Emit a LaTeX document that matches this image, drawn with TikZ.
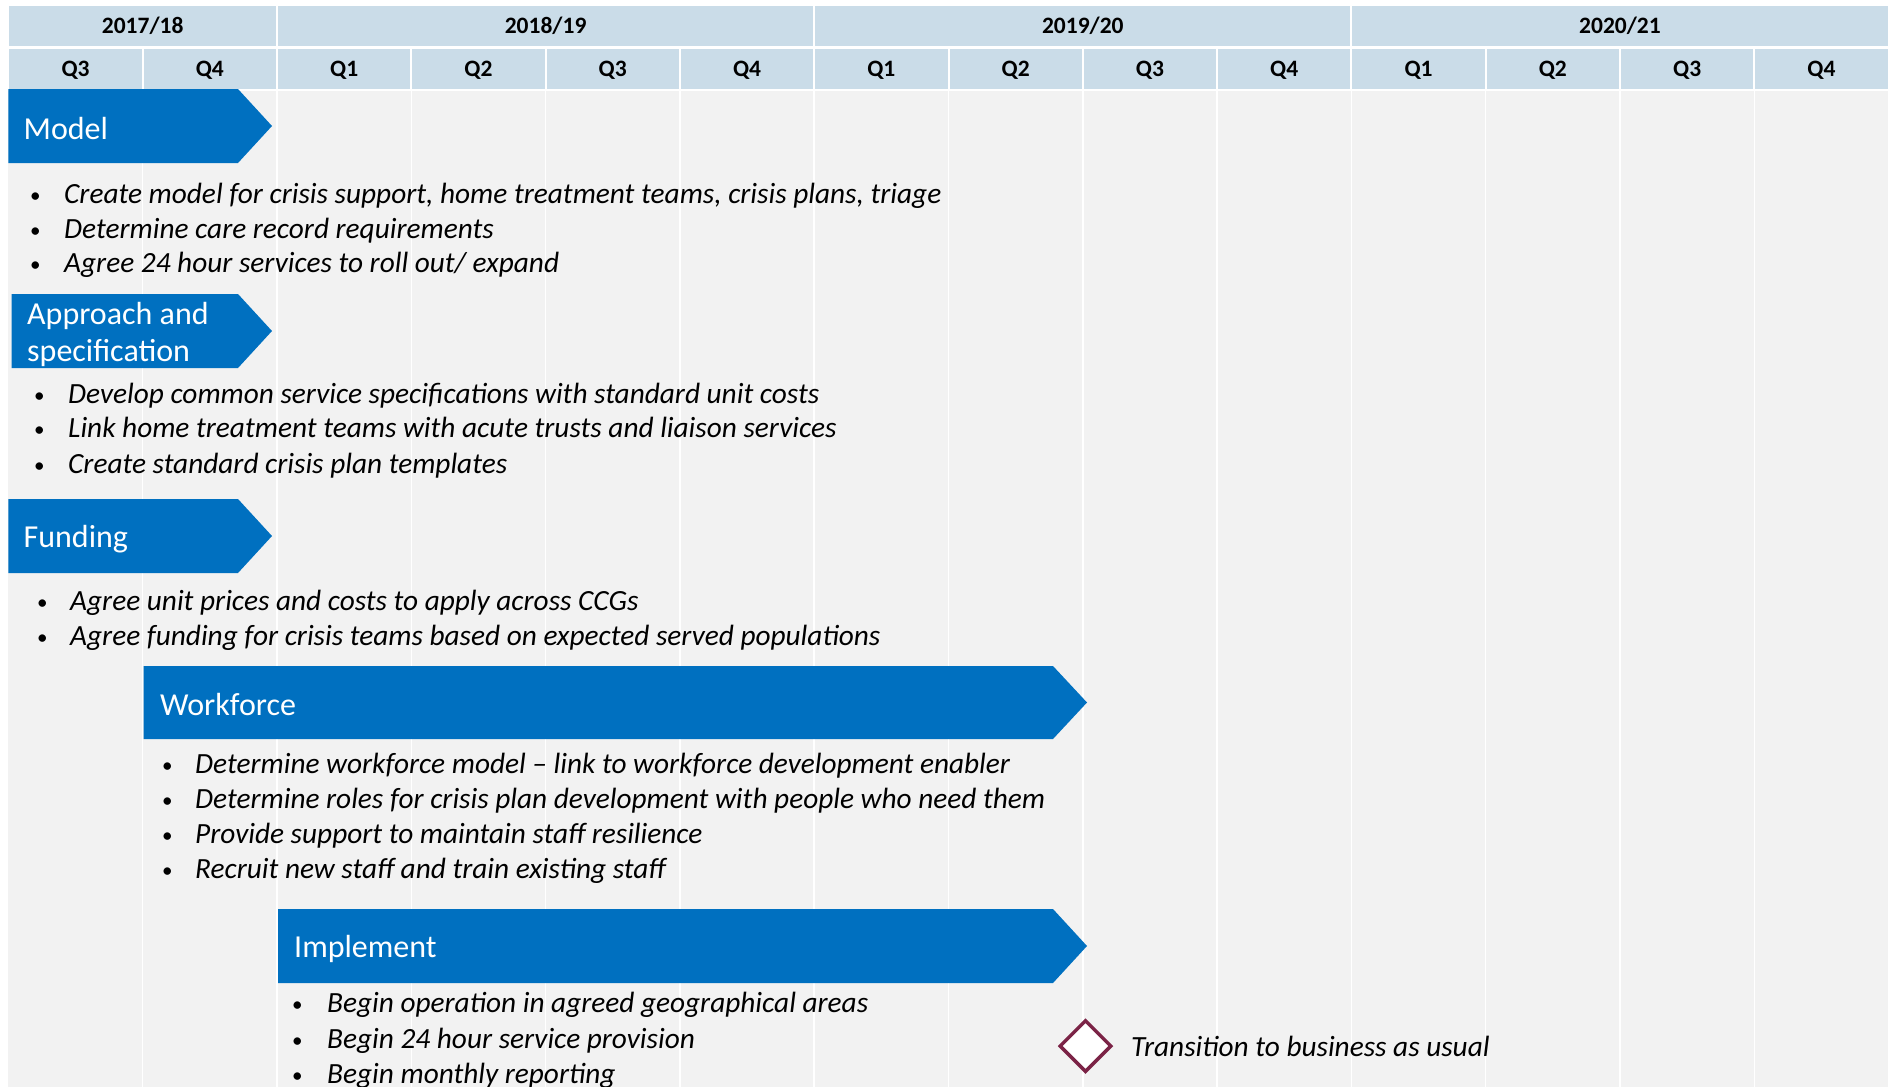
\documentclass[tikz,border=0pt]{standalone}
\usepackage{fontspec}
\setmainfont{Carlito}
\usetikzlibrary{shapes.geometric}
\definecolor{hdrblue}{HTML}{CADCE8}
\definecolor{bodygrey}{HTML}{F2F2F2}
\definecolor{barblue}{HTML}{0070C0}
\definecolor{baured}{HTML}{7B2346}
\newcommand{\itemdot}{\raisebox{1pt}{\scalebox{0.72}{\upshape\textbullet}}}
\begin{document}
\begin{tikzpicture}[x=1pt,y=-1pt,
hdr/.style={fill=hdrblue,draw=white,line width=2pt,inner sep=0pt,text height=15pt,text depth=0pt,font=\bfseries\fontsize{23.5}{26}\selectfont},
bar/.style={fill=barblue},
barlabel/.style={anchor=west,inner sep=0pt,align=left,text=white,font=\fontsize{32}{37.5}\selectfont},
item/.style={anchor=base west,inner sep=0pt,font=\itshape\fontsize{29.3}{33}\selectfont}
]
\useasboundingbox (0,0) rectangle (1888,1087);
\fill[bodygrey] (8.4,90) rectangle (1888,1087);
\foreach \i in {1,...,13}
    \draw[white,line width=1.5pt] ({8.4+134.3*\i},90) -- ({8.4+134.3*\i},1087);
% header
\node (y0)[hdr,minimum width=268.6pt,minimum height=42pt,text height=16.5pt] at (142.7,25.5) {2017/18};
\foreach \y [count=\i from 1] in {2018/19,2019/20,2020/21}
    \node (y\i)[hdr,minimum width=537.2pt,minimum height=42pt,text height=16.5pt] at ({277+537.2*(\i-1)+268.6},25.5) {\y};
\foreach \q [count=\i from 0] in {Q3,Q4,Q1,Q2,Q3,Q4,Q1,Q2,Q3,Q4,Q1,Q2,Q3,Q4}
    \node (q\i)[hdr,minimum width=134.3pt,minimum height=42pt] at ({8.4+134.3*\i+67.15},69) {\q};
% phases
\fill[bar] (8.4,89) -- (238,89) -- (272,126) -- (238,163) -- (8.4,163) -- cycle;
\node (model)[barlabel] at (23.5,128) {Model};
\node (m1)[item] at (30,203) {\makebox[34pt][l]{\itemdot}Create model for crisis support, home treatment teams, crisis plans, triage};
\node (m2)[item] at (30,238) {\makebox[34pt][l]{\itemdot}Determine care record requirements};
\node (m3)[item] at (30,272) {\makebox[34pt][l]{\itemdot}Agree 24 hour services to roll out/ expand};

\fill[bar] (11.5,294) -- (238,294) -- (272,331) -- (238,368) -- (11.5,368) -- cycle;
\node (approach)[barlabel] at (27,334.5) {Approach and\\specification};
\node (a1)[item] at (34,403) {\makebox[34pt][l]{\itemdot}Develop common service specifications with standard unit costs};
\node (a2)[item] at (34,437) {\makebox[34pt][l]{\itemdot}Link home treatment teams with acute trusts and liaison services};
\node (a3)[item] at (34,473) {\makebox[34pt][l]{\itemdot}Create standard crisis plan templates};

\fill[bar] (8.4,499) -- (238,499) -- (272,536) -- (238,573) -- (8.4,573) -- cycle;
\node (funding)[barlabel] at (23.5,539) {Funding};
\node (f1)[item] at (37,610) {\makebox[33pt][l]{\itemdot}Agree unit prices and costs to apply across CCGs};
\node (f2)[item] at (37,645) {\makebox[33pt][l]{\itemdot}Agree funding for crisis teams based on expected served populations};

\fill[bar] (143.5,666) -- (1053,666) -- (1087,702.5) -- (1053,739) -- (143.5,739) -- cycle;
\node (workforce)[barlabel] at (160,704) {Workforce};
\node (w1)[item] at (162,773) {\makebox[33pt][l]{\itemdot}Determine workforce model -- link to workforce development enabler};
\node (w2)[item] at (162,808) {\makebox[33pt][l]{\itemdot}Determine roles for crisis plan development with people who need them};
\node (w3)[item] at (162,843) {\makebox[33pt][l]{\itemdot}Provide support to maintain staff resilience};
\node (w4)[item] at (162,878) {\makebox[33pt][l]{\itemdot}Recruit new staff and train existing staff};

\fill[bar] (278,909) -- (1053,909) -- (1087,946) -- (1053,983) -- (278,983) -- cycle;
\node (implement)[barlabel] at (294,949) {Implement};
\node (i1)[item] at (292,1012) {\makebox[35pt][l]{\itemdot}Begin operation in agreed geographical areas};
\node (i2)[item] at (292,1048) {\makebox[35pt][l]{\itemdot}Begin 24 hour service provision};
\node (i3)[item] at (292,1083) {\makebox[35pt][l]{\itemdot}Begin monthly reporting};
% milestone
\node (bau)[diamond,draw=baured,fill=white,line width=3.5pt,minimum size=52pt,inner sep=0pt] at (1085.5,1046) {};
\node (bautext)[item,anchor=west] at (1131,1046) {Transition to business as usual};
\end{tikzpicture}
\end{document}
